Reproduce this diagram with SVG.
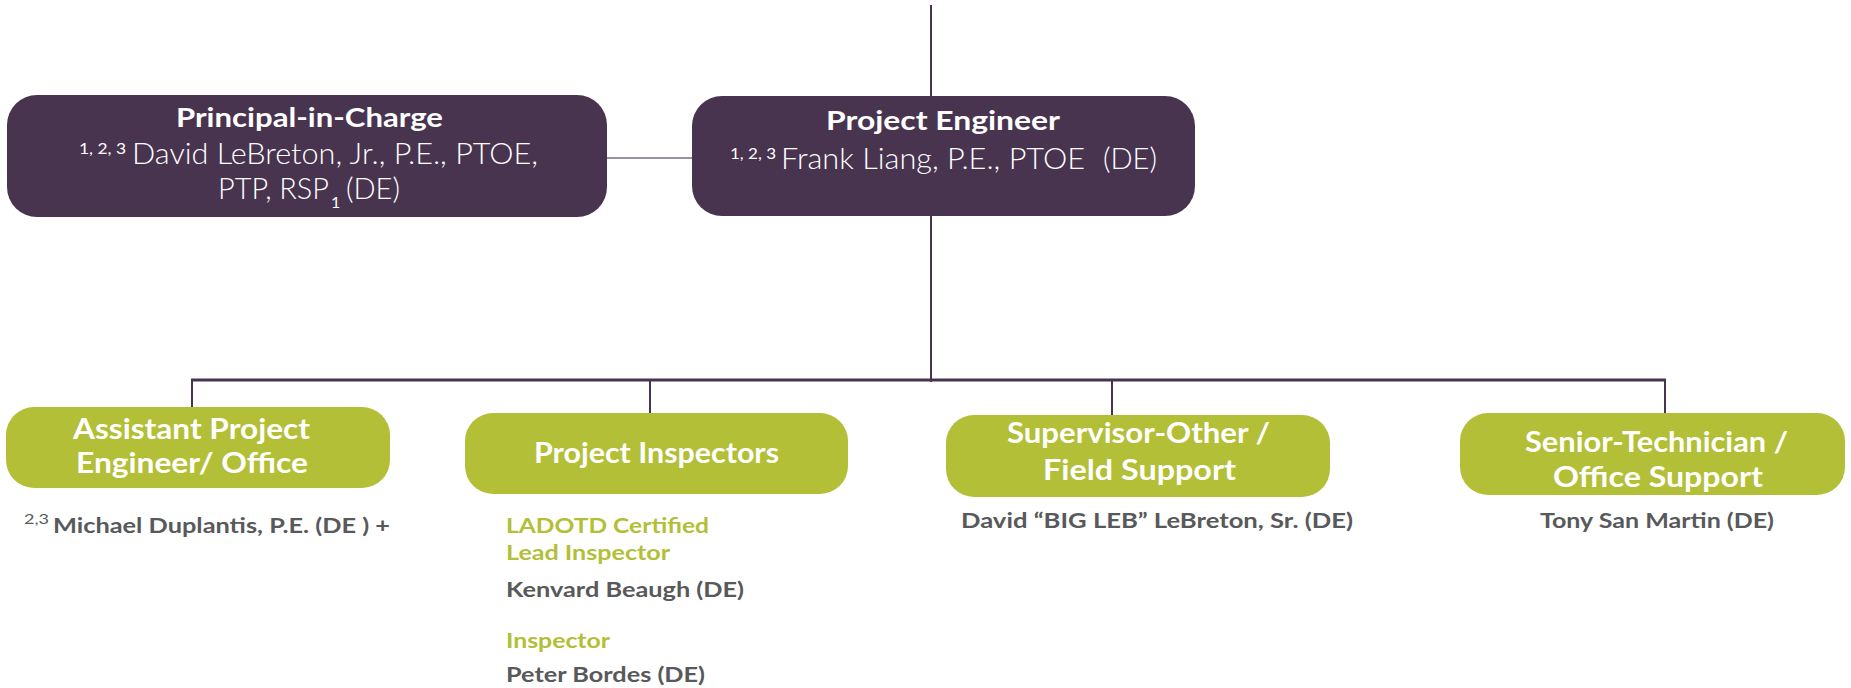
<svg xmlns="http://www.w3.org/2000/svg" width="1851" height="688" viewBox="0 0 1851 688">
<style>
  .purple { fill: #48344f; }
  .green { fill: #b2bf37; }
  .ttl { font-family: Lato, "Liberation Sans", sans-serif; font-weight: 700; fill: #ffffff; font-size: 27px; }
  .lt { font-family: Lato, "Liberation Sans", sans-serif; font-weight: 300; fill: #ffffff; font-size: 29px; }
  .sup { font-family: Lato, "Liberation Sans", sans-serif; font-weight: 400; fill: #ffffff; font-size: 16px; }
  .gt { font-family: Lato, "Liberation Sans", sans-serif; font-weight: 700; fill: #ffffff; font-size: 28px; }
  .pers { font-family: Lato, "Liberation Sans", sans-serif; font-weight: 700; fill: #58595b; font-size: 21px; }
  .psup { font-family: Lato, "Liberation Sans", sans-serif; font-weight: 400; fill: #58595b; font-size: 14px; }
  .role { font-family: Lato, "Liberation Sans", sans-serif; font-weight: 700; fill: #b2bf37; font-size: 21px; }
  .ln { stroke: #48344f; stroke-width: 2; fill: none; }
  .bus { stroke: #48344f; stroke-width: 3; fill: none; }
  .lnlight { stroke: #9b8fa0; stroke-width: 2; fill: none; }
</style>
<rect width="1851" height="688" fill="#ffffff"/>
<g id="connectors">
  <line class="ln" x1="931" y1="5" x2="931" y2="382"/>
  <line class="lnlight" x1="607" y1="158" x2="692" y2="158"/>
  <line class="bus" x1="191" y1="380" x2="1666" y2="380"/>
  <line class="ln" x1="192" y1="380" x2="192" y2="408"/>
  <line class="ln" x1="650" y1="380" x2="650" y2="414"/>
  <line class="ln" x1="1112" y1="380" x2="1112" y2="416"/>
  <line class="ln" x1="1665" y1="380" x2="1665" y2="414"/>
</g>
<g id="principal">
  <rect class="purple" x="7" y="95" width="600" height="122" rx="30" ry="30"/>
  <text class="ttl" x="176" y="127" textLength="267" lengthAdjust="spacingAndGlyphs">Principal-in-Charge</text>
  <text class="sup" x="79" y="154" textLength="47" lengthAdjust="spacingAndGlyphs">1, 2, 3</text>
  <text class="lt" x="132" y="164" textLength="406" lengthAdjust="spacingAndGlyphs">David LeBreton, Jr., P.E., PTOE,</text>
  <text class="lt" x="218" y="199" textLength="111" lengthAdjust="spacingAndGlyphs">PTP, RSP</text>
  <text class="sup" x="331" y="208">1</text>
  <text class="lt" x="346" y="199" textLength="54" lengthAdjust="spacingAndGlyphs">(DE)</text>
</g>
<g id="project-engineer">
  <rect class="purple" x="692" y="96" width="503" height="120" rx="30" ry="30"/>
  <text class="ttl" x="826" y="130" textLength="234" lengthAdjust="spacingAndGlyphs">Project Engineer</text>
  <text class="sup" x="730" y="159" textLength="46" lengthAdjust="spacingAndGlyphs">1, 2, 3</text>
  <text class="lt" x="781" y="169" textLength="304" lengthAdjust="spacingAndGlyphs">Frank Liang, P.E., PTOE</text>
  <text class="lt" x="1103" y="169" textLength="54" lengthAdjust="spacingAndGlyphs">(DE)</text>
</g>
<g id="assistant">
  <rect class="green" x="6" y="407" width="384" height="81" rx="28" ry="28"/>
  <text class="gt" x="73" y="439" textLength="237" lengthAdjust="spacingAndGlyphs">Assistant Project</text>
  <text class="gt" x="76" y="473" textLength="232" lengthAdjust="spacingAndGlyphs">Engineer/ Office</text>
  <text class="psup" x="24" y="524" textLength="25" lengthAdjust="spacingAndGlyphs">2,3</text>
  <text class="pers" x="53" y="533" textLength="337" lengthAdjust="spacingAndGlyphs">Michael Duplantis, P.E. (DE ) +</text>
</g>
<g id="inspectors">
  <rect class="green" x="465" y="413" width="383" height="81" rx="28" ry="28"/>
  <text class="gt" x="534" y="463" textLength="245" lengthAdjust="spacingAndGlyphs">Project Inspectors</text>
  <text class="role" x="506" y="533" textLength="203" lengthAdjust="spacingAndGlyphs">LADOTD Certified</text>
  <text class="role" x="506" y="560" textLength="164" lengthAdjust="spacingAndGlyphs">Lead Inspector</text>
  <text class="pers" x="506" y="597" textLength="238" lengthAdjust="spacingAndGlyphs">Kenvard Beaugh (DE)</text>
  <text class="role" x="506" y="648" textLength="104" lengthAdjust="spacingAndGlyphs">Inspector</text>
  <text class="pers" x="506" y="682" textLength="199" lengthAdjust="spacingAndGlyphs">Peter Bordes (DE)</text>
</g>
<g id="supervisor">
  <rect class="green" x="946" y="415" width="384" height="82" rx="28" ry="28"/>
  <text class="gt" x="1007" y="443" textLength="263" lengthAdjust="spacingAndGlyphs">Supervisor-Other /</text>
  <text class="gt" x="1043" y="480" textLength="193" lengthAdjust="spacingAndGlyphs">Field Support</text>
  <text class="pers" x="961" y="528" textLength="392" lengthAdjust="spacingAndGlyphs">David “BIG LEB” LeBreton, Sr. (DE)</text>
</g>
<g id="senior-technician">
  <rect class="green" x="1460" y="413" width="385" height="82" rx="28" ry="28"/>
  <text class="gt" x="1525" y="452" textLength="263" lengthAdjust="spacingAndGlyphs">Senior-Technician /</text>
  <text class="gt" x="1553" y="487" textLength="210" lengthAdjust="spacingAndGlyphs">Office Support</text>
  <text class="pers" x="1540" y="528" textLength="234" lengthAdjust="spacingAndGlyphs">Tony San Martin (DE)</text>
</g>
</svg>
